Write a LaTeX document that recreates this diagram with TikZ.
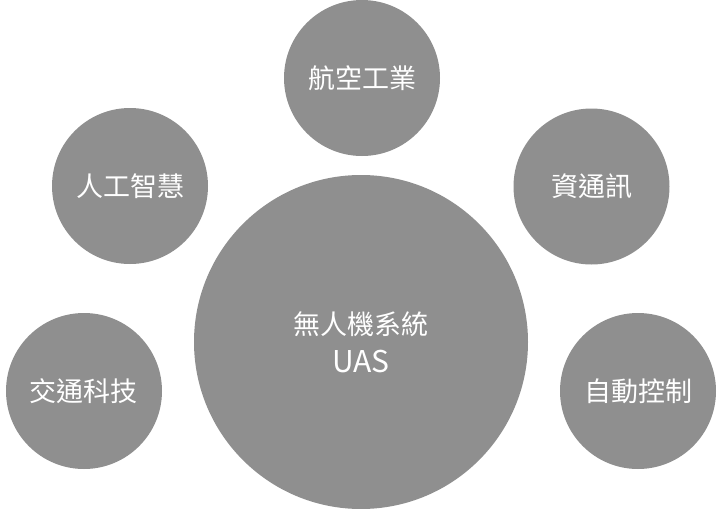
\documentclass[tikz,border=0pt]{standalone}
\usepackage{fontspec}
\setmainfont{Noto Sans CJK TC}
\definecolor{bubblegray}{RGB}{143,143,143}
\begin{document}
\begin{tikzpicture}[x=1pt,y=-1pt]
\tikzset{
  bubble/.style={circle,fill=bubblegray,draw=none,text=white,inner sep=0pt,
    minimum size=156pt,font=\fontsize{27}{32}\selectfont},
  bigbubble/.style={bubble,minimum size=334pt,align=center,font=\fontsize{27}{38}\selectfont}
}
\useasboundingbox (0,0) rectangle (721,509);
\node[bubble] (aero) at (362,78) {航空工業};
\node[bubble] (ai) at (130,186) {人工智慧};
\node[bubble] (ict) at (591.5,186.5) {資通訊};
\node[bubble] (traffic) at (84,391) {交通科技};
\node[bubble] (auto) at (638,391) {自動控制};
\node[bigbubble] (uas) at (361,342) {無人機系統\\{\fontsize{30}{38}\selectfont UAS}};
\end{tikzpicture}
\end{document}
